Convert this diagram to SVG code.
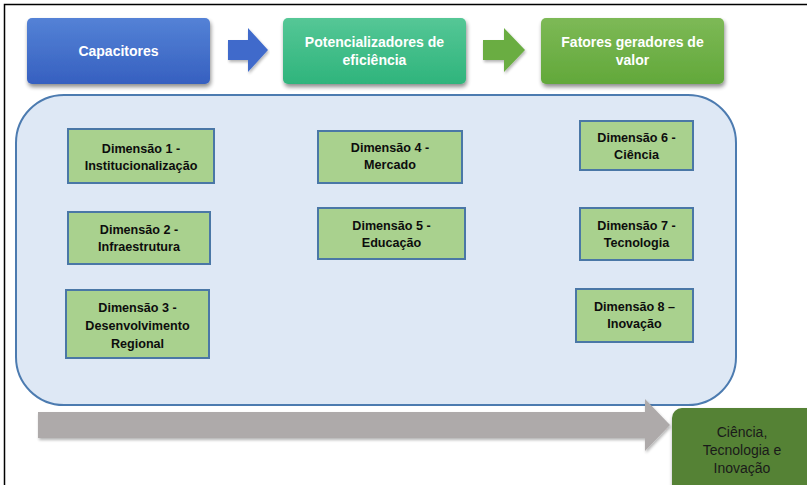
<svg xmlns="http://www.w3.org/2000/svg" width="807" height="485" viewBox="0 0 807 485">
  <defs>
    <linearGradient id="gBlue" x1="0" y1="0" x2="0" y2="1">
      <stop offset="0" stop-color="#5482d6"/>
      <stop offset="1" stop-color="#3660c0"/>
    </linearGradient>
    <linearGradient id="gTeal" x1="0" y1="0" x2="0" y2="1">
      <stop offset="0" stop-color="#55c796"/>
      <stop offset="1" stop-color="#2fb47c"/>
    </linearGradient>
    <linearGradient id="gGreen" x1="0" y1="0" x2="0" y2="1">
      <stop offset="0" stop-color="#7db956"/>
      <stop offset="1" stop-color="#62a83a"/>
    </linearGradient>
    <filter id="shadow" x="-10%" y="-10%" width="125%" height="135%">
      <feGaussianBlur in="SourceAlpha" stdDeviation="2"/>
      <feOffset dx="1" dy="3"/>
      <feComponentTransfer><feFuncA type="linear" slope="0.45"/></feComponentTransfer>
      <feMerge><feMergeNode/><feMergeNode in="SourceGraphic"/></feMerge>
    </filter>
    <filter id="softShadow" x="-5%" y="-20%" width="110%" height="150%">
      <feGaussianBlur in="SourceAlpha" stdDeviation="1.5"/>
      <feOffset dx="1" dy="2"/>
      <feComponentTransfer><feFuncA type="linear" slope="0.3"/></feComponentTransfer>
      <feMerge><feMergeNode/><feMergeNode in="SourceGraphic"/></feMerge>
    </filter>
  </defs>
  <style>
    .stage { stroke: none; }
    .stageText { font-family: "Liberation Sans", Arial, sans-serif; font-size: 14px; font-weight: bold; fill: #ffffff; text-anchor: middle; }
    .dim { fill: #a9d18e; stroke: #4a77a6; stroke-width: 2; }
    .dimText { font-family: "Liberation Sans", Arial, sans-serif; font-size: 12.6px; font-weight: bold; fill: #0d0d0d; text-anchor: middle; }
    .ctiText { font-family: "Liberation Sans", Arial, sans-serif; font-size: 14px; fill: #1a1a1a; text-anchor: middle; }
  </style>

  <rect width="807" height="485" fill="#ffffff"/>
  <!-- frame lines on the left and top -->
  <path d="M4.5 485 V4.5 H807" fill="none" stroke="#000000" stroke-width="1.5"/>

  <!-- stage arrows between the top blocks -->
  <g id="connectors">
    <path d="M228 40 H248 V28 L268 50 L248 72 V60 H228 Z" fill="#3f6bcb" filter="url(#softShadow)"/>
    <path d="M483 40 H504 V28 L525 50 L504 72 V60 H483 Z" fill="#6aad42" filter="url(#softShadow)"/>
  </g>

  <!-- top stages -->
  <g id="capacitores">
    <rect class="stage" x="27" y="18" width="183" height="66" rx="5" fill="url(#gBlue)" filter="url(#shadow)"/>
    <text class="stageText" x="118.5" y="56">Capacitores</text>
  </g>
  <g id="potencializadores">
    <rect class="stage" x="283" y="18" width="183" height="66" rx="5" fill="url(#gTeal)" filter="url(#shadow)"/>
    <text class="stageText" x="374.5" y="47">Potencializadores de</text>
    <text class="stageText" x="374.5" y="65">eficiência</text>
  </g>
  <g id="fatores">
    <rect class="stage" x="541" y="18" width="183" height="66" rx="5" fill="url(#gGreen)" filter="url(#shadow)"/>
    <text class="stageText" x="632.5" y="47">Fatores geradores de</text>
    <text class="stageText" x="632.5" y="65">valor</text>
  </g>

  <!-- container for the dimensions -->
  <g id="painel">
    <rect x="16" y="95" width="720" height="310" rx="48" fill="#dee8f5" stroke="#4c7bb0" stroke-width="2"/>
  </g>

  <g id="dim1">
    <rect class="dim" x="68" y="129" width="146" height="54"/>
    <text class="dimText" x="141" y="153">Dimensão 1 -</text>
    <text class="dimText" x="141" y="170">Institucionalização</text>
  </g>
  <g id="dim2">
    <rect class="dim" x="68" y="212" width="142" height="52"/>
    <text class="dimText" x="139" y="234">Dimensão 2 -</text>
    <text class="dimText" x="139" y="251">Infraestrutura</text>
  </g>
  <g id="dim3">
    <rect class="dim" x="66" y="290" width="143" height="68"/>
    <text class="dimText" x="137.5" y="312">Dimensão 3 -</text>
    <text class="dimText" x="137.5" y="330">Desenvolvimento</text>
    <text class="dimText" x="137.5" y="348">Regional</text>
  </g>
  <g id="dim4">
    <rect class="dim" x="318" y="131" width="144" height="52"/>
    <text class="dimText" x="390" y="152">Dimensão 4 -</text>
    <text class="dimText" x="390" y="169">Mercado</text>
  </g>
  <g id="dim5">
    <rect class="dim" x="318" y="208" width="147" height="51"/>
    <text class="dimText" x="391.5" y="230">Dimensão 5 -</text>
    <text class="dimText" x="391.5" y="247">Educação</text>
  </g>
  <g id="dim6">
    <rect class="dim" x="580" y="121" width="113" height="49"/>
    <text class="dimText" x="636.5" y="142">Dimensão 6 -</text>
    <text class="dimText" x="636.5" y="159">Ciência</text>
  </g>
  <g id="dim7">
    <rect class="dim" x="580" y="208" width="113" height="52"/>
    <text class="dimText" x="636.5" y="230">Dimensão 7 -</text>
    <text class="dimText" x="636.5" y="247">Tecnologia</text>
  </g>
  <g id="dim8">
    <rect class="dim" x="576" y="289" width="117" height="53"/>
    <text class="dimText" x="634.5" y="311">Dimensão 8 –</text>
    <text class="dimText" x="634.5" y="328">Inovação</text>
  </g>

  <!-- long horizon arrow -->
  <g id="seta-horizonte">
    <path d="M38 412 H645 V399 L670 425 L645 451 V438 H38 Z" fill="#aeaaaa" filter="url(#softShadow)"/>
  </g>

  <g id="cti">
    <rect x="672" y="408" width="145" height="90" rx="10" fill="#548235" filter="url(#shadow)"/>
    <text class="ctiText" x="742" y="437">Ciência,</text>
    <text class="ctiText" x="742" y="455">Tecnologia e</text>
    <text class="ctiText" x="742" y="473">Inovação</text>
  </g>
</svg>
